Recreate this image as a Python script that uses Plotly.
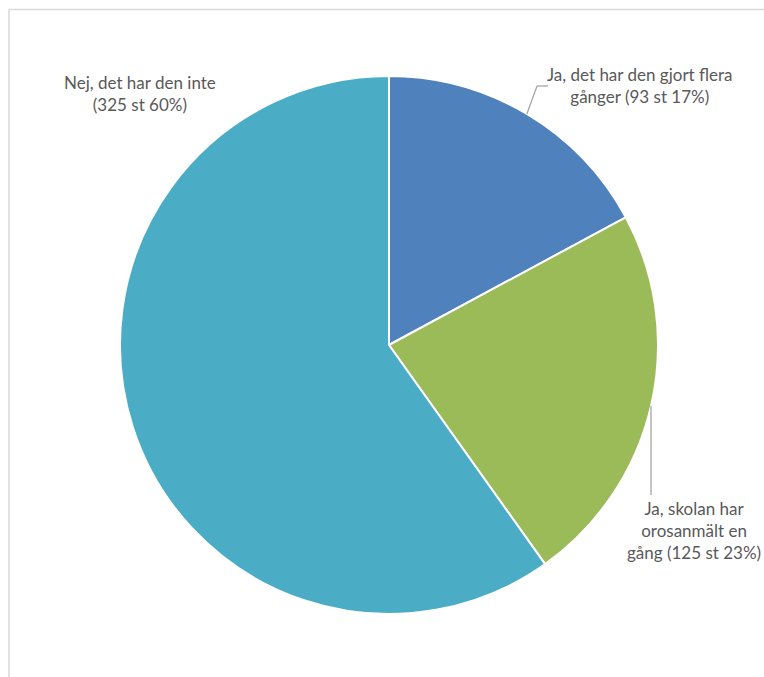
import math
import plotly.graph_objects as go

categories = ["Ja, det har den gjort flera gånger", "Ja, skolan har orosanmält en gång", "Nej, det har den inte"]
values = [93, 125, 325]
percents = [17, 23, 60]
label_texts = [
    "Ja, det har den gjort flera<br>gånger (93 st 17%)",
    "Ja, skolan har<br>orosanmält en<br>gång (125 st 23%)",
    "Nej, det har den inte<br>(325 st 60%)",
]
colors = ["#4F81BD", "#9BBB59", "#4BACC6"]

W, H = 764, 677
cx, cy, R = 389, 345, 269

fig = go.Figure(go.Pie(
    labels=categories, values=values, sort=False, direction="clockwise", rotation=0,
    marker=dict(colors=colors, line=dict(color="white", width=2)),
    textinfo="none", hoverinfo="label+value+percent", showlegend=False,
    domain=dict(x=[(cx - R) / W, (cx + R) / W], y=[(H - cy - R) / H, (H - cy + R) / H]),
))

font = dict(family="Lato, Open Sans, sans-serif", size=17, color="#595959")
label_pos = [(640, 85), (694, 530), (140, 94)]
for txt, (lx, ly) in zip(label_texts, label_pos):
    fig.add_annotation(x=lx / W, y=1 - ly / H, xref="paper", yref="paper", text=txt,
                       showarrow=False, font=font, align="center", xanchor="center", yanchor="middle")

# leader lines from slice mid-angle at the edge
total = sum(values)
cum = 0
mids = []
for v in values:
    mids.append((cum + v / 2) / total * 2 * math.pi)
    cum += v

def edge(a):
    return cx + R * math.sin(a), cy - R * math.cos(a)

line_style = dict(color="#A6A6A6", width=1.3)
x0, y0 = edge(mids[0])
pts = [(x0, y0), (537, 86), (548, 86)]
for (ax, ay), (bx, by) in zip(pts[:-1], pts[1:]):
    fig.add_shape(type="line", xref="paper", yref="paper", x0=ax / W, y0=1 - ay / H,
                  x1=bx / W, y1=1 - by / H, line=line_style)
x1, y1 = edge(mids[1])
fig.add_shape(type="line", xref="paper", yref="paper", x0=x1 / W, y0=1 - y1 / H,
              x1=x1 / W, y1=1 - 495 / H, line=line_style)

# chart frame
fig.add_shape(type="rect", xref="paper", yref="paper", x0=9 / W, y0=-0.05, x1=1.05, y1=1 - 9.5 / H,
              line=dict(color="#D9D9D9", width=1.5), fillcolor="rgba(0,0,0,0)", layer="below")

fig.update_layout(width=W, height=H, margin=dict(l=0, r=0, t=0, b=0),
                  paper_bgcolor="white", plot_bgcolor="white")
fig.write_html("out.html", config={"displayModeBar": False},
               post_script="document.body.style.margin='0';document.body.style.overflow='hidden';")
